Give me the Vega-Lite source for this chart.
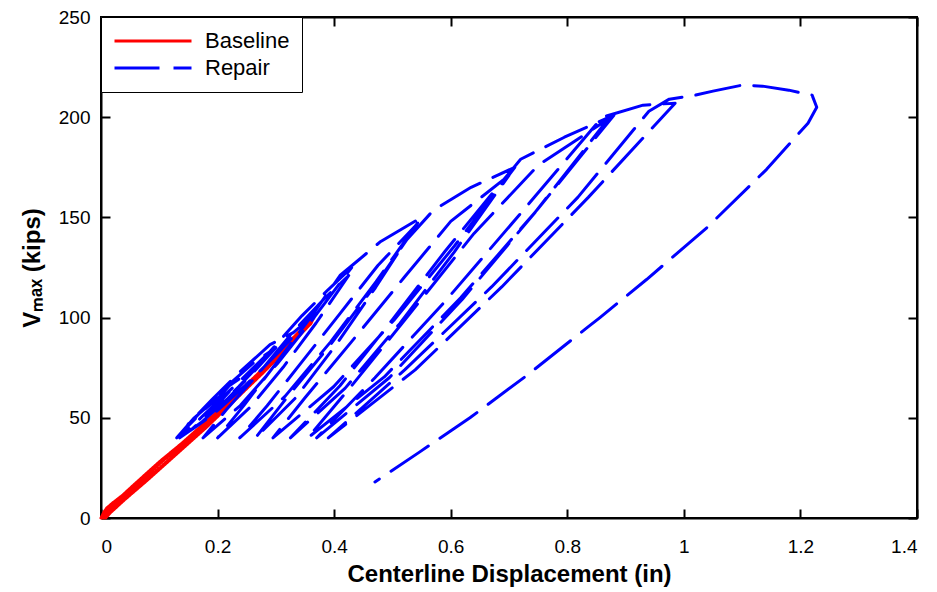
{
  "$schema": "https://vega.github.io/schema/vega-lite/v6.json",
  "width": 816,
  "height": 501,
  "autosize": "none",
  "padding": {"left": 101, "top": 17, "right": 20, "bottom": 74},
  "background": "white",
  "config": {
    "font": "Liberation Sans",
    "view": {"stroke": "black", "strokeWidth": 2},
    "axis": {
      "grid": false,
      "domainColor": "black",
      "domainWidth": 2,
      "tickColor": "black",
      "tickWidth": 2,
      "tickSize": -9,
      "labelFont": "Liberation Sans",
      "labelFontSize": 19,
      "labelColor": "black",
      "titleFont": "Liberation Sans",
      "titleFontSize": 24,
      "titleFontWeight": "bold",
      "titleColor": "black"
    }
  },
  "data": {
    "values": [
      {"s": "Baseline", "i": 0, "d": 0, "v": 0},
      {"s": "Baseline", "i": 1, "d": 0.005, "v": 3},
      {"s": "Baseline", "i": 2, "d": 0.01, "v": 5},
      {"s": "Baseline", "i": 3, "d": 0.02, "v": 7.5},
      {"s": "Baseline", "i": 4, "d": 0.04, "v": 12},
      {"s": "Baseline", "i": 5, "d": 0.06, "v": 17},
      {"s": "Baseline", "i": 6, "d": 0.08, "v": 22},
      {"s": "Baseline", "i": 7, "d": 0.1, "v": 27},
      {"s": "Baseline", "i": 8, "d": 0.12, "v": 32},
      {"s": "Baseline", "i": 9, "d": 0.14, "v": 37},
      {"s": "Baseline", "i": 10, "d": 0.16, "v": 42},
      {"s": "Baseline", "i": 11, "d": 0.15, "v": 38},
      {"s": "Baseline", "i": 12, "d": 0.12, "v": 30},
      {"s": "Baseline", "i": 13, "d": 0.09, "v": 22},
      {"s": "Baseline", "i": 14, "d": 0.06, "v": 15},
      {"s": "Baseline", "i": 15, "d": 0.03, "v": 8},
      {"s": "Baseline", "i": 16, "d": 0.01, "v": 3},
      {"s": "Baseline", "i": 17, "d": 0.003, "v": 0},
      {"s": "Baseline", "i": 18, "d": 0.01, "v": 4},
      {"s": "Baseline", "i": 19, "d": 0.03, "v": 9.5},
      {"s": "Baseline", "i": 20, "d": 0.06, "v": 17.5},
      {"s": "Baseline", "i": 21, "d": 0.1, "v": 28},
      {"s": "Baseline", "i": 22, "d": 0.15, "v": 40},
      {"s": "Baseline", "i": 23, "d": 0.2, "v": 53},
      {"s": "Baseline", "i": 24, "d": 0.23, "v": 61},
      {"s": "Baseline", "i": 25, "d": 0.21, "v": 55},
      {"s": "Baseline", "i": 26, "d": 0.17, "v": 44},
      {"s": "Baseline", "i": 27, "d": 0.12, "v": 30},
      {"s": "Baseline", "i": 28, "d": 0.07, "v": 17},
      {"s": "Baseline", "i": 29, "d": 0.03, "v": 7},
      {"s": "Baseline", "i": 30, "d": 0.005, "v": 0},
      {"s": "Baseline", "i": 31, "d": 0.02, "v": 6.5},
      {"s": "Baseline", "i": 32, "d": 0.06, "v": 16.5},
      {"s": "Baseline", "i": 33, "d": 0.1, "v": 27},
      {"s": "Baseline", "i": 34, "d": 0.15, "v": 40},
      {"s": "Baseline", "i": 35, "d": 0.2, "v": 52.5},
      {"s": "Baseline", "i": 36, "d": 0.25, "v": 66},
      {"s": "Baseline", "i": 37, "d": 0.29, "v": 77},
      {"s": "Baseline", "i": 38, "d": 0.27, "v": 71},
      {"s": "Baseline", "i": 39, "d": 0.22, "v": 57},
      {"s": "Baseline", "i": 40, "d": 0.17, "v": 43},
      {"s": "Baseline", "i": 41, "d": 0.12, "v": 30},
      {"s": "Baseline", "i": 42, "d": 0.07, "v": 17},
      {"s": "Baseline", "i": 43, "d": 0.03, "v": 7},
      {"s": "Baseline", "i": 44, "d": 0.008, "v": 0},
      {"s": "Baseline", "i": 45, "d": 0.03, "v": 8.5},
      {"s": "Baseline", "i": 46, "d": 0.08, "v": 21.5},
      {"s": "Baseline", "i": 47, "d": 0.13, "v": 35},
      {"s": "Baseline", "i": 48, "d": 0.18, "v": 48},
      {"s": "Baseline", "i": 49, "d": 0.23, "v": 61},
      {"s": "Baseline", "i": 50, "d": 0.28, "v": 75},
      {"s": "Baseline", "i": 51, "d": 0.32, "v": 87},
      {"s": "Baseline", "i": 52, "d": 0.35, "v": 96},
      {"s": "Baseline", "i": 53, "d": 0.365, "v": 100},
      {"s": "Baseline", "i": 54, "d": 0.36, "v": 97},
      {"s": "Baseline", "i": 55, "d": 0.33, "v": 88},
      {"s": "Baseline", "i": 56, "d": 0.28, "v": 73},
      {"s": "Baseline", "i": 57, "d": 0.23, "v": 59},
      {"s": "Baseline", "i": 58, "d": 0.18, "v": 45},
      {"s": "Baseline", "i": 59, "d": 0.13, "v": 32},
      {"s": "Baseline", "i": 60, "d": 0.08, "v": 19},
      {"s": "Baseline", "i": 61, "d": 0.04, "v": 9},
      {"s": "Baseline", "i": 62, "d": 0.01, "v": 1},

      {"s": "Repair", "i": 0, "d": 0.13, "v": 40},
      {"s": "Repair", "i": 1, "d": 0.16, "v": 50},
      {"s": "Repair", "i": 2, "d": 0.19, "v": 57.5},
      {"s": "Repair", "i": 3, "d": 0.22, "v": 63},
      {"s": "Repair", "i": 4, "d": 0.199, "v": 56.3},
      {"s": "Repair", "i": 5, "d": 0.1775, "v": 50},
      {"s": "Repair", "i": 6, "d": 0.156, "v": 44.3},
      {"s": "Repair", "i": 7, "d": 0.135, "v": 40},
      {"s": "Repair", "i": 8, "d": 0.15, "v": 46},
      {"s": "Repair", "i": 9, "d": 0.175, "v": 53.5},
      {"s": "Repair", "i": 10, "d": 0.205, "v": 61},
      {"s": "Repair", "i": 11, "d": 0.22, "v": 66},
      {"s": "Repair", "i": 12, "d": 0.245, "v": 71},
      {"s": "Repair", "i": 13, "d": 0.27, "v": 76},
      {"s": "Repair", "i": 14, "d": 0.236, "v": 65.5},
      {"s": "Repair", "i": 15, "d": 0.2025, "v": 55.7},
      {"s": "Repair", "i": 16, "d": 0.169, "v": 46.8},
      {"s": "Repair", "i": 17, "d": 0.135, "v": 40},
      {"s": "Repair", "i": 18, "d": 0.15, "v": 46.5},
      {"s": "Repair", "i": 19, "d": 0.185, "v": 57},
      {"s": "Repair", "i": 20, "d": 0.225, "v": 68},
      {"s": "Repair", "i": 21, "d": 0.262, "v": 77.5},
      {"s": "Repair", "i": 22, "d": 0.3, "v": 85},
      {"s": "Repair", "i": 23, "d": 0.259, "v": 71.9},
      {"s": "Repair", "i": 24, "d": 0.2175, "v": 59.6},
      {"s": "Repair", "i": 25, "d": 0.176, "v": 48.5},
      {"s": "Repair", "i": 26, "d": 0.135, "v": 40},
      {"s": "Repair", "i": 27, "d": 0.15, "v": 47},
      {"s": "Repair", "i": 28, "d": 0.19, "v": 59},
      {"s": "Repair", "i": 29, "d": 0.235, "v": 72},
      {"s": "Repair", "i": 30, "d": 0.29, "v": 86.5},
      {"s": "Repair", "i": 31, "d": 0.33, "v": 92.5},
      {"s": "Repair", "i": 32, "d": 0.36, "v": 100},
      {"s": "Repair", "i": 33, "d": 0.304, "v": 82.5},
      {"s": "Repair", "i": 34, "d": 0.2475, "v": 66.1},
      {"s": "Repair", "i": 35, "d": 0.191, "v": 51.3},
      {"s": "Repair", "i": 36, "d": 0.135, "v": 40},
      {"s": "Repair", "i": 37, "d": 0.176, "v": 51.3},
      {"s": "Repair", "i": 38, "d": 0.23, "v": 66.1},
      {"s": "Repair", "i": 39, "d": 0.288, "v": 82.5},
      {"s": "Repair", "i": 40, "d": 0.345, "v": 101},
      {"s": "Repair", "i": 41, "d": 0.39, "v": 114},
      {"s": "Repair", "i": 42, "d": 0.43, "v": 125},
      {"s": "Repair", "i": 43, "d": 0.366, "v": 100.2},
      {"s": "Repair", "i": 44, "d": 0.3025, "v": 77},
      {"s": "Repair", "i": 45, "d": 0.239, "v": 56.1},
      {"s": "Repair", "i": 46, "d": 0.175, "v": 40},
      {"s": "Repair", "i": 47, "d": 0.215, "v": 54},
      {"s": "Repair", "i": 48, "d": 0.27, "v": 72},
      {"s": "Repair", "i": 49, "d": 0.33, "v": 93},
      {"s": "Repair", "i": 50, "d": 0.385, "v": 110},
      {"s": "Repair", "i": 51, "d": 0.425, "v": 121},
      {"s": "Repair", "i": 52, "d": 0.369, "v": 97.3},
      {"s": "Repair", "i": 53, "d": 0.3125, "v": 75.2},
      {"s": "Repair", "i": 54, "d": 0.256, "v": 55.3},
      {"s": "Repair", "i": 55, "d": 0.2, "v": 40},
      {"s": "Repair", "i": 56, "d": 0.245, "v": 56.1},
      {"s": "Repair", "i": 57, "d": 0.3, "v": 77},
      {"s": "Repair", "i": 58, "d": 0.36, "v": 100.2},
      {"s": "Repair", "i": 59, "d": 0.41, "v": 121},
      {"s": "Repair", "i": 60, "d": 0.48, "v": 138},
      {"s": "Repair", "i": 61, "d": 0.55, "v": 150},
      {"s": "Repair", "i": 62, "d": 0.472, "v": 117.9},
      {"s": "Repair", "i": 63, "d": 0.394, "v": 87.9},
      {"s": "Repair", "i": 64, "d": 0.316, "v": 60.8},
      {"s": "Repair", "i": 65, "d": 0.238, "v": 40},
      {"s": "Repair", "i": 66, "d": 0.285, "v": 56},
      {"s": "Repair", "i": 67, "d": 0.345, "v": 78},
      {"s": "Repair", "i": 68, "d": 0.41, "v": 102},
      {"s": "Repair", "i": 69, "d": 0.475, "v": 126},
      {"s": "Repair", "i": 70, "d": 0.54, "v": 146},
      {"s": "Repair", "i": 71, "d": 0.471, "v": 115},
      {"s": "Repair", "i": 72, "d": 0.4025, "v": 86.1},
      {"s": "Repair", "i": 73, "d": 0.334, "v": 60},
      {"s": "Repair", "i": 74, "d": 0.265, "v": 40},
      {"s": "Repair", "i": 75, "d": 0.32, "v": 60.5},
      {"s": "Repair", "i": 76, "d": 0.395, "v": 87},
      {"s": "Repair", "i": 77, "d": 0.47, "v": 116},
      {"s": "Repair", "i": 78, "d": 0.525, "v": 139},
      {"s": "Repair", "i": 79, "d": 0.57, "v": 153.5},
      {"s": "Repair", "i": 80, "d": 0.635, "v": 165},
      {"s": "Repair", "i": 81, "d": 0.71, "v": 175},
      {"s": "Repair", "i": 82, "d": 0.606, "v": 135.6},
      {"s": "Repair", "i": 83, "d": 0.5025, "v": 98.7},
      {"s": "Repair", "i": 84, "d": 0.399, "v": 65.5},
      {"s": "Repair", "i": 85, "d": 0.295, "v": 40},
      {"s": "Repair", "i": 86, "d": 0.35, "v": 60},
      {"s": "Repair", "i": 87, "d": 0.43, "v": 88},
      {"s": "Repair", "i": 88, "d": 0.52, "v": 120},
      {"s": "Repair", "i": 89, "d": 0.6, "v": 148},
      {"s": "Repair", "i": 90, "d": 0.7, "v": 171},
      {"s": "Repair", "i": 91, "d": 0.606, "v": 132.7},
      {"s": "Repair", "i": 92, "d": 0.5125, "v": 97},
      {"s": "Repair", "i": 93, "d": 0.419, "v": 64.8},
      {"s": "Repair", "i": 94, "d": 0.325, "v": 40},
      {"s": "Repair", "i": 95, "d": 0.41, "v": 66},
      {"s": "Repair", "i": 96, "d": 0.5, "v": 99},
      {"s": "Repair", "i": 97, "d": 0.59, "v": 133},
      {"s": "Repair", "i": 98, "d": 0.66, "v": 158},
      {"s": "Repair", "i": 99, "d": 0.72, "v": 179},
      {"s": "Repair", "i": 100, "d": 0.795, "v": 190},
      {"s": "Repair", "i": 101, "d": 0.88, "v": 201},
      {"s": "Repair", "i": 102, "d": 0.749, "v": 154},
      {"s": "Repair", "i": 103, "d": 0.6175, "v": 110},
      {"s": "Repair", "i": 104, "d": 0.486, "v": 70.4},
      {"s": "Repair", "i": 105, "d": 0.355, "v": 40},
      {"s": "Repair", "i": 106, "d": 0.43, "v": 66},
      {"s": "Repair", "i": 107, "d": 0.53, "v": 102},
      {"s": "Repair", "i": 108, "d": 0.64, "v": 142},
      {"s": "Repair", "i": 109, "d": 0.75, "v": 176},
      {"s": "Repair", "i": 110, "d": 0.87, "v": 199},
      {"s": "Repair", "i": 111, "d": 0.745, "v": 152.6},
      {"s": "Repair", "i": 112, "d": 0.62, "v": 109.2},
      {"s": "Repair", "i": 113, "d": 0.495, "v": 70.1},
      {"s": "Repair", "i": 114, "d": 0.37, "v": 40},
      {"s": "Repair", "i": 115, "d": 0.47, "v": 70},
      {"s": "Repair", "i": 116, "d": 0.59, "v": 108},
      {"s": "Repair", "i": 117, "d": 0.72, "v": 152},
      {"s": "Repair", "i": 118, "d": 0.86, "v": 200},
      {"s": "Repair", "i": 119, "d": 0.93, "v": 206},
      {"s": "Repair", "i": 120, "d": 0.985, "v": 207},
      {"s": "Repair", "i": 121, "d": 0.836, "v": 160},
      {"s": "Repair", "i": 122, "d": 0.6875, "v": 115.3},
      {"s": "Repair", "i": 123, "d": 0.539, "v": 73.9},
      {"s": "Repair", "i": 124, "d": 0.39, "v": 40},
      {"s": "Repair", "i": 125, "d": 0.521, "v": 73.9},
      {"s": "Repair", "i": 126, "d": 0.67, "v": 115.3},
      {"s": "Repair", "i": 127, "d": 0.818, "v": 160},
      {"s": "Repair", "i": 128, "d": 0.94, "v": 203},
      {"s": "Repair", "i": 129, "d": 0.975, "v": 209},
      {"s": "Repair", "i": 130, "d": 1.02, "v": 211},
      {"s": "Repair", "i": 131, "d": 1.05, "v": 213},
      {"s": "Repair", "i": 132, "d": 1.1, "v": 216},
      {"s": "Repair", "i": 133, "d": 1.135, "v": 215.5},
      {"s": "Repair", "i": 134, "d": 1.18, "v": 213.5},
      {"s": "Repair", "i": 135, "d": 1.22, "v": 211},
      {"s": "Repair", "i": 136, "d": 1.228, "v": 205},
      {"s": "Repair", "i": 137, "d": 1.213, "v": 197},
      {"s": "Repair", "i": 138, "d": 1.142, "v": 174},
      {"s": "Repair", "i": 139, "d": 1.04, "v": 145},
      {"s": "Repair", "i": 140, "d": 0.936, "v": 119},
      {"s": "Repair", "i": 141, "d": 0.856, "v": 100},
      {"s": "Repair", "i": 142, "d": 0.834, "v": 95},
      {"s": "Repair", "i": 143, "d": 0.73, "v": 71},
      {"s": "Repair", "i": 144, "d": 0.633, "v": 50},
      {"s": "Repair", "i": 145, "d": 0.547, "v": 33},
      {"s": "Repair", "i": 146, "d": 0.47, "v": 18}
    ]
  },
  "layer": [
    {
      "mark": {"type": "line", "strokeWidth": 3, "strokeJoin": "round", "strokeCap": "round"},
      "encoding": {
        "x": {
          "field": "d", "type": "quantitative",
          "scale": {"domain": [0, 1.4], "nice": false, "zero": false},
          "axis": {"orient": "bottom", "values": [0, 0.2, 0.4, 0.6, 0.8, 1, 1.2, 1.4], "format": "~g", "labelPadding": 28, "titlePadding": 6, "title": "Centerline Displacement (in)"}
        },
        "y": {
          "field": "v", "type": "quantitative",
          "scale": {"domain": [0, 250], "nice": false},
          "axis": {"orient": "left", "values": [0, 50, 100, 150, 200, 250], "labelPadding": 20, "titlePadding": 14, "title": "Vₘₐₓ (kips)"}
        },
        "color": {
          "field": "s", "type": "nominal",
          "scale": {"domain": ["Baseline", "Repair"], "range": ["#ff0000", "#0000ff"]},
          "legend": {
            "title": null, "orient": "top-left", "offset": 0, "padding": 12,
            "fillColor": "white", "strokeColor": "black",
            "symbolType": "stroke", "symbolSize": 5929, "symbolStrokeWidth": 3,
            "labelFontSize": 22, "labelFont": "Liberation Sans", "labelColor": "black",
            "labelOffset": 12, "clipHeight": 24, "rowPadding": 3
          }
        },
        "strokeDash": {
          "field": "s", "type": "nominal",
          "scale": {"domain": ["Baseline", "Repair"], "range": [[1, 0], [45, 14]]}
        },
        "order": {"field": "i", "type": "quantitative"}
      }
    },
    {
      "mark": {"type": "line", "opacity": 0},
      "encoding": {
        "x": {"field": "d", "type": "quantitative", "axis": {"orient": "top", "values": [0, 0.2, 0.4, 0.6, 0.8, 1, 1.2, 1.4], "labels": false, "title": null}},
        "y": {"field": "v", "type": "quantitative", "axis": {"orient": "right", "values": [0, 50, 100, 150, 200, 250], "labels": false, "title": null}},
        "detail": {"field": "s", "type": "nominal"}
      }
    }
  ],
  "resolve": {"axis": {"x": "independent", "y": "independent"}}
}
